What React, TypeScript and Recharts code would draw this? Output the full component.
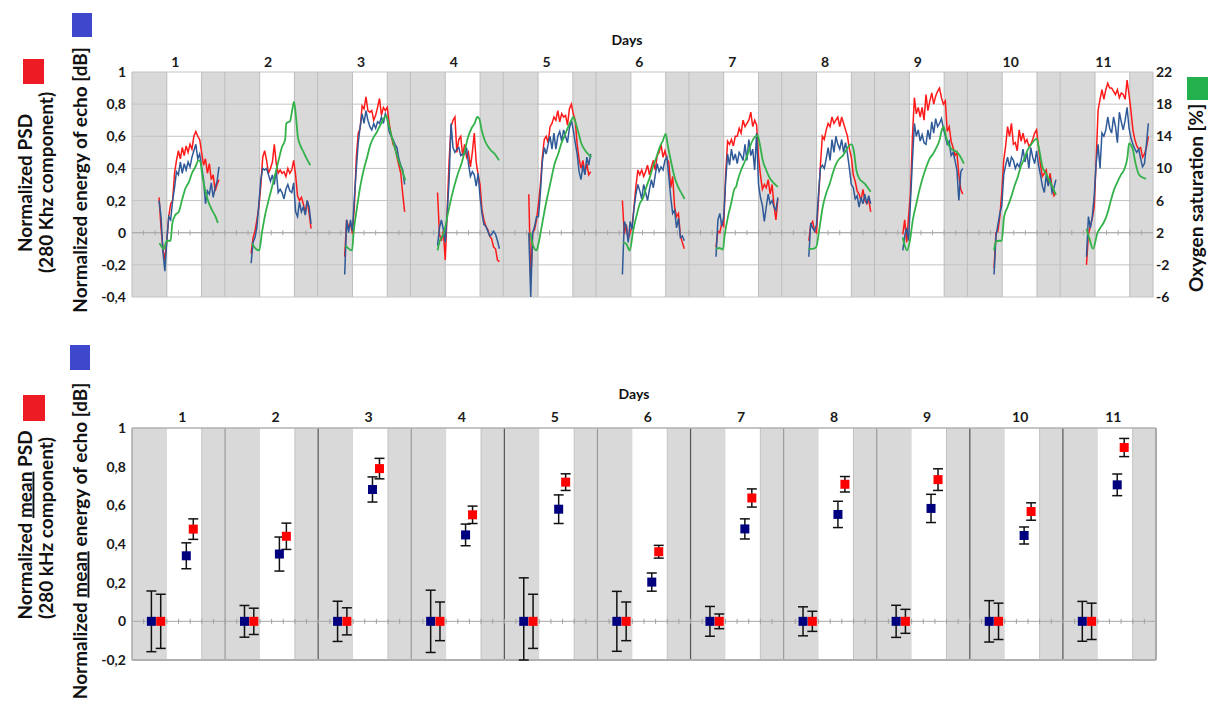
import React from 'react';
import {
  ComposedChart,
  Line,
  Scatter,
  ErrorBar,
  XAxis,
  YAxis,
  ReferenceArea,
  ReferenceLine,
} from 'recharts';

// ---------- categories / ticks ----------
const DAY_LABELS = ['1', '2', '3', '4', '5', '6', '7', '8', '9', '10', '11'];
const HOURS_PER_DAY = 24;
const NIGHT_END_H = 9; // dark band 0-9 h
const LIGHT_END_H = 18; // light band 9-18 h, dark 18-24 h
const TOP_LEFT_TICKS = [-0.4, -0.2, 0, 0.2, 0.4, 0.6, 0.8, 1];
const O2_TICKS = [-6, -2, 2, 6, 10, 14, 18, 22];
const BOTTOM_LEFT_TICKS = [-0.2, 0, 0.2, 0.4, 0.6, 0.8, 1];

// ---------- top panel: time series (hour grid per day) ----------
const SAMPLE_STEP_H = 0.5;
const START_HOURS = [7.0, 6.8, 7.0, 7.0, 6.6, 6.8, 7.0, 7.0, 7.3, 6.9, 6.8];

// Normalized PSD (280 kHz component) - red
const PSD_SERIES: number[][] = [
  [0.22, 0.03, -0.1, -0.17, -0.05, 0.1, 0.18, 0.2, 0.37, 0.45, 0.51, 0.46, 0.53, 0.48, 0.54, 0.5, 0.55, 0.52, 0.6, 0.63, 0.6, 0.58, 0.5, 0.42, 0.46, 0.37, 0.43, 0.33, 0.36, 0.26, 0.3, 0.33],
  [-0.13, -0.03, 0.01, 0.08, 0.16, 0.29, 0.47, 0.51, 0.45, 0.37, 0.4, 0.44, 0.55, 0.43, 0.37, 0.39, 0.37, 0.38, 0.35, 0.4, 0.37, 0.39, 0.45, 0.36, 0.23, 0.2, 0.22, 0.18, 0.12, 0.2, 0.12, 0.025],
  [-0.15, 0.08, 0.035, 0.056, -0.006, 0.16, 0.47, 0.62, 0.65, 0.79, 0.77, 0.845, 0.76, 0.75, 0.76, 0.7, 0.73, 0.78, 0.835, 0.73, 0.78, 0.76, 0.78, 0.68, 0.61, 0.55, 0.53, 0.47, 0.42, 0.37, 0.24, 0.13],
  [0.25, -0.01, -0.05, 0.01, -0.17, 0.14, 0.45, 0.66, 0.7, 0.72, 0.5, 0.58, 0.6, 0.48, 0.55, 0.47, 0.5, 0.41, 0.5, 0.62, 0.44, 0.36, 0.3, 0.14, 0.08, 0.04, 0.02, -0.02, -0.04, -0.09, -0.1, -0.17, -0.18],
  [0.24, -0.3, 0.0, 0.02, 0.08, 0.18, 0.3, 0.47, 0.58, 0.6, 0.56, 0.66, 0.68, 0.72, 0.7, 0.76, 0.69, 0.74, 0.72, 0.73, 0.67, 0.77, 0.8, 0.74, 0.7, 0.55, 0.46, 0.4, 0.45, 0.37, 0.43, 0.36, 0.38],
  [0.2, -0.01, 0.05, -0.04, 0.0, 0.04, 0.16, 0.29, 0.39, 0.36, 0.39, 0.35, 0.38, 0.42, 0.36, 0.41, 0.45, 0.39, 0.48, 0.5, 0.55, 0.47, 0.51, 0.46, 0.44, 0.28, 0.35, 0.16, 0.1, 0.12, -0.02, -0.06, -0.1],
  [-0.09, 0.01, 0.0, 0.06, 0.04, 0.36, 0.57, 0.55, 0.58, 0.54, 0.6, 0.6, 0.65, 0.62, 0.7, 0.66, 0.68, 0.7, 0.75, 0.66, 0.7, 0.67, 0.47, 0.36, 0.27, 0.3, 0.28, 0.33, 0.24, 0.3, 0.17, 0.08, 0.21],
  [-0.05, 0.05, 0.07, 0.01, 0.0, 0.2, 0.42, 0.6, 0.58, 0.64, 0.68, 0.66, 0.72, 0.68, 0.7, 0.72, 0.66, 0.72, 0.68, 0.64, 0.6, 0.52, 0.47, 0.36, 0.32, 0.26, 0.24, 0.2, 0.27, 0.2, 0.18, 0.21, 0.13],
  [-0.01, 0.08, -0.06, 0.1, 0.25, 0.6, 0.84, 0.74, 0.78, 0.72, 0.78, 0.7, 0.86, 0.76, 0.82, 0.87, 0.8, 0.85, 0.88, 0.9, 0.84, 0.8, 0.82, 0.63, 0.66, 0.57, 0.53, 0.48, 0.5, 0.36, 0.27, 0.24],
  [-0.22, 0.0, 0.01, 0.1, 0.25, 0.45, 0.54, 0.66, 0.6, 0.68, 0.55, 0.56, 0.51, 0.64, 0.57, 0.62, 0.56, 0.58, 0.54, 0.55, 0.58, 0.62, 0.64, 0.53, 0.42, 0.35, 0.37, 0.39, 0.3, 0.37, 0.28, 0.23, 0.25],
  [-0.2, -0.01, 0.04, 0.09, 0.16, 0.45, 0.76, 0.83, 0.89, 0.83, 0.89, 0.93, 0.9, 0.9, 0.88, 0.86, 0.89, 0.84, 0.87, 0.86, 0.83, 0.95, 0.86, 0.76, 0.64, 0.58, 0.54, 0.52, 0.53, 0.47, 0.49, 0.53, 0.6],
];

// Normalized energy of echo [dB] - blue
const ECHO_SERIES: number[][] = [
  [0.2, 0.1, -0.12, -0.24, -0.05, 0.1, 0.08, 0.2, 0.28, 0.38, 0.36, 0.44, 0.37, 0.43, 0.39, 0.44, 0.41, 0.47, 0.51, 0.55, 0.46, 0.49, 0.41, 0.33, 0.18, 0.26, 0.24, 0.31, 0.22, 0.28, 0.32, 0.41],
  [-0.19, -0.06, -0.03, 0.035, 0.18, 0.33, 0.4, 0.39, 0.4, 0.36, 0.32, 0.36, 0.3, 0.39, 0.25, 0.27, 0.25, 0.21, 0.27, 0.3, 0.26, 0.25, 0.31, 0.13, 0.1, 0.19, 0.13, 0.16, 0.11, 0.2, 0.16, 0.055],
  [-0.26, 0.08, 0.0, 0.08, 0.01, 0.22, 0.4, 0.56, 0.66, 0.74, 0.68, 0.76, 0.7, 0.66, 0.64, 0.68, 0.65, 0.69, 0.68, 0.72, 0.68, 0.74, 0.71, 0.63, 0.6, 0.58, 0.55, 0.53, 0.46, 0.42, 0.39, 0.3],
  [-0.08, 0.03, 0.08, 0.02, -0.06, 0.12, 0.33, 0.68, 0.53, 0.5, 0.52, 0.53, 0.48, 0.49, 0.49, 0.53, 0.43, 0.35, 0.38, 0.36, 0.29, 0.37, 0.22, 0.12, 0.05, 0.04, 0.01, -0.02, -0.01, 0.01, -0.01, -0.05, -0.1],
  [0.0, -0.4, 0.0, 0.04, 0.1, 0.1, 0.25, 0.44, 0.53, 0.49, 0.55, 0.6, 0.52, 0.62, 0.52, 0.6, 0.63, 0.57, 0.64, 0.6, 0.56, 0.65, 0.7, 0.64, 0.56, 0.49, 0.38, 0.33, 0.42, 0.36, 0.47, 0.42, 0.49],
  [-0.26, 0.07, 0.04, -0.06, 0.07, 0.02, 0.15, 0.24, 0.3, 0.26, 0.21, 0.3, 0.25, 0.2, 0.27, 0.33, 0.28, 0.36, 0.43, 0.38, 0.41, 0.39, 0.45, 0.47, 0.35, 0.22, 0.12, 0.14, 0.03, 0.09, -0.03, -0.02, -0.05],
  [-0.15, 0.08, 0.12, 0.04, 0.1, 0.32, 0.49, 0.42, 0.52, 0.45, 0.49, 0.43, 0.5, 0.48, 0.45, 0.55, 0.45, 0.58, 0.48, 0.52, 0.39, 0.62, 0.3, 0.22, 0.17, 0.07, 0.16, 0.24, 0.18, 0.2, 0.16, 0.14, 0.22],
  [-0.15, 0.06, 0.03, 0.01, 0.05, 0.24, 0.4, 0.42, 0.4, 0.46, 0.53, 0.45, 0.58, 0.5, 0.6, 0.55, 0.52, 0.58, 0.5, 0.56, 0.49, 0.4, 0.3, 0.28, 0.21, 0.23, 0.16, 0.22, 0.18, 0.24, 0.18, 0.23, 0.18],
  [-0.11, -0.02, 0.03, -0.05, 0.2, 0.45, 0.68, 0.6, 0.64, 0.57, 0.61, 0.56, 0.55, 0.64, 0.58, 0.69, 0.62, 0.71, 0.66, 0.68, 0.71, 0.65, 0.6, 0.55, 0.57, 0.48, 0.5, 0.45, 0.39, 0.2, 0.38, 0.4],
  [-0.26, -0.02, 0.05, 0.12, 0.17, 0.36, 0.42, 0.47, 0.41, 0.47, 0.45, 0.4, 0.43, 0.41, 0.45, 0.52, 0.44, 0.5, 0.4, 0.53, 0.47, 0.43, 0.51, 0.42, 0.36, 0.29, 0.25, 0.36, 0.29, 0.34, 0.25, 0.28, 0.33],
  [-0.15, 0.1, 0.03, 0.1, 0.23, 0.43, 0.55, 0.4, 0.62, 0.6, 0.64, 0.72, 0.65, 0.62, 0.72, 0.66, 0.56, 0.75, 0.69, 0.64, 0.7, 0.78, 0.65, 0.59, 0.55, 0.52, 0.5, 0.52, 0.46, 0.41, 0.43, 0.55, 0.68],
];

// Oxygen saturation [%] - green, [hour of day, value]
const O2_SERIES: [number, number][][] = [
  [[7.1, 0.7], [8.2, 0], [9.0, 1.0], [10.0, 1.0], [10.4, 3.1], [11.2, 4.2], [12.1, 4.6], [12.9, 6.0], [13.8, 7.5], [14.7, 8.3], [15.5, 9.4], [16.4, 10.2], [17.2, 11.0], [17.7, 10.8], [18.1, 9.4], [19.0, 7.1], [19.8, 5.8], [20.7, 4.8], [21.6, 4.0], [22.2, 3.2]],
  [[7.0, 0.7], [8.0, 0.0], [8.9, -0.2], [9.6, 2.0], [10.5, 4.4], [11.3, 6.0], [12.2, 7.7], [13.1, 9.4], [13.9, 11.0], [14.8, 12.7], [15.6, 13.6], [15.9, 15.6], [16.9, 15.9], [17.4, 17.2], [17.9, 18.3], [18.4, 16.4], [18.9, 13.9], [19.5, 12.9], [20.4, 12.0], [21.2, 11.2], [22.1, 10.4]],
  [[7.2, 0.4], [8.9, -0.2], [9.3, 2.0], [10.2, 5.2], [11.0, 7.7], [11.9, 9.8], [12.8, 11.4], [13.6, 12.9], [14.5, 13.9], [15.3, 14.5], [16.2, 15.4], [17.1, 16.2], [17.7, 16.6], [18.4, 15.4], [19.2, 13.9], [20.1, 12.3], [20.9, 11.0], [21.8, 9.8], [22.7, 8.5]],
  [[7.0, -0.2], [7.6, 1.0], [8.4, 1.7], [8.9, 2.5], [9.7, 4.4], [10.6, 6.4], [11.5, 8.1], [12.3, 9.4], [13.2, 10.6], [14.1, 12.3], [14.9, 13.9], [15.8, 15.0], [16.6, 15.6], [17.3, 16.4], [17.8, 16.2], [18.4, 14.8], [19.2, 13.5], [20.1, 12.7], [20.9, 12.2], [21.8, 11.8], [22.9, 11.0]],
  [[7.0, 2.0], [7.7, 0.4], [8.6, -0.2], [9.0, 0.4], [9.9, 2.7], [10.7, 4.8], [11.6, 6.9], [12.5, 8.9], [13.3, 10.6], [14.2, 11.8], [15.0, 13.1], [15.9, 14.1], [16.8, 15.2], [17.6, 16.0], [18.1, 16.4], [18.5, 16.0], [19.4, 14.5], [20.2, 13.1], [21.1, 12.3], [21.9, 11.8], [22.8, 11.4]],
  [[7.0, 0.8], [7.8, 0.6], [8.7, -0.2], [9.6, 2.3], [10.4, 4.0], [11.3, 5.6], [12.2, 6.4], [13.0, 7.7], [13.9, 8.9], [14.7, 10.2], [15.6, 11.4], [16.5, 12.7], [17.3, 13.5], [18.0, 14.3], [18.6, 12.7], [19.5, 10.6], [20.3, 8.9], [21.2, 7.7], [22.1, 6.9], [22.9, 6.2]],
  [[7.0, 0.0], [7.9, 0.1], [8.8, -0.1], [9.2, 1.5], [10.1, 4.0], [10.9, 5.6], [11.8, 7.5], [12.2, 7.7], [12.6, 8.5], [13.5, 9.8], [14.4, 10.8], [15.2, 11.8], [16.1, 13.1], [17.0, 13.9], [17.8, 14.1], [18.3, 13.1], [19.1, 11.0], [20.0, 9.8], [20.8, 8.9], [21.7, 8.3], [23.0, 7.7]],
  [[6.9, 0.0], [8.0, 0.0], [8.9, 0.2], [9.8, 2.7], [10.6, 5.2], [11.5, 6.9], [12.4, 8.1], [13.2, 9.4], [14.1, 10.6], [14.9, 11.2], [15.8, 11.6], [16.7, 12.3], [17.5, 12.9], [18.1, 13.0], [18.6, 12.3], [19.3, 9.8], [20.1, 8.7], [21.0, 8.3], [21.8, 7.9], [23.0, 7.1]],
  [[7.3, 1.4], [7.8, 0.4], [8.4, -0.2], [9.1, 0.9], [9.9, 3.6], [10.8, 5.6], [11.6, 7.3], [12.5, 8.9], [13.4, 10.2], [14.2, 11.2], [15.1, 11.8], [15.9, 12.5], [16.8, 13.5], [17.4, 14.8], [17.9, 15.2], [18.5, 13.9], [19.4, 12.7], [20.3, 12.3], [21.1, 12.1], [22.0, 11.6], [23.1, 10.6]],
  [[6.9, -0.2], [7.4, 0.9], [8.2, 1.0], [8.9, 1.0], [9.5, 4.0], [10.4, 5.2], [11.3, 6.4], [12.1, 7.7], [13.0, 8.9], [13.8, 10.2], [14.7, 11.2], [15.6, 12.3], [16.4, 12.9], [17.3, 13.5], [17.9, 13.7], [18.6, 12.3], [19.4, 10.2], [20.3, 9.4], [21.2, 8.5], [22.0, 7.7], [22.9, 6.7]],
  [[6.8, 2.5], [7.6, 1.2], [8.5, 0.0], [9.6, 1.9], [10.5, 2.7], [11.3, 3.3], [12.2, 4.4], [13.1, 6.0], [13.9, 7.3], [14.8, 8.3], [15.7, 9.2], [16.5, 9.8], [17.4, 11.4], [17.8, 13.1], [18.7, 12.5], [19.5, 10.6], [20.4, 9.2], [21.2, 8.9], [22.2, 8.7]],
];

// ---------- bottom panel: means with error bars ----------
const SAMPLE_HOUR_NIGHT_ECHO = 5.0;
const SAMPLE_HOUR_NIGHT_PSD = 7.4;
const SAMPLE_HOUR_DAY_ECHO = 14.0;
const SAMPLE_HOUR_DAY_PSD = 15.8;

const NIGHT_ECHO_MEAN = [0, 0, 0, 0, 0, 0, 0, 0, 0, 0, 0];
const NIGHT_ECHO_ERR: (number | [number, number])[] = [0.157, 0.082, 0.104, 0.161, [0.2, 0.225], 0.155, 0.077, 0.075, 0.083, 0.107, 0.103];
const NIGHT_PSD_MEAN = [0, 0, 0, 0, 0, 0, 0, 0, 0, 0, 0];
const NIGHT_PSD_ERR = [0.14, 0.068, 0.07, 0.1, 0.14, 0.1, 0.038, 0.052, 0.062, 0.094, 0.094];
const DAY_ECHO_MEAN = [0.339, 0.348, 0.682, 0.447, 0.58, 0.203, 0.478, 0.553, 0.584, 0.444, 0.706];
const DAY_ECHO_ERR = [0.067, 0.088, 0.065, 0.056, 0.074, 0.047, 0.052, 0.068, 0.073, 0.044, 0.056];
const DAY_PSD_MEAN = [0.477, 0.44, 0.79, 0.551, 0.72, 0.36, 0.638, 0.709, 0.733, 0.568, 0.899];
const DAY_PSD_ERR = [0.053, 0.068, 0.053, 0.045, 0.043, 0.033, 0.047, 0.04, 0.056, 0.045, 0.047];

// ---------- derived ----------
const N_DAYS = DAY_LABELS.length;
const X_MAX = N_DAYS * HOURS_PER_DAY;
const dayIdx = DAY_LABELS.map((_, i) => i);

const seriesData = (vals: number[], d: number) =>
  vals.map((v, i) => ({ t: d * HOURS_PER_DAY + START_HOURS[d] + i * SAMPLE_STEP_H, v }));
const o2Data = (pts: [number, number][], d: number) =>
  pts.map(([h, v]) => ({ t: d * HOURS_PER_DAY + h, v }));

const bandsDark = dayIdx.flatMap((d) => [
  [d * 24, d * 24 + NIGHT_END_H],
  [d * 24 + LIGHT_END_H, d * 24 + 24],
]);
const boundaries = dayIdx.flatMap((d) => [d * 24, d * 24 + NIGHT_END_H, d * 24 + LIGHT_END_H]).concat([X_MAX]);
const minorTicks: number[] = [];
for (let h = 3; h < X_MAX; h += 3) minorTicks.push(h);

const meanPts = (hour: number, means: number[], errs: any[]) =>
  dayIdx.map((d) => ({ t: d * 24 + hour, v: means[d], err: errs[d] }));

const commaFmt = (v: number) => {
  const r = Math.round(v * 10) / 10;
  return String(r).replace('.', ',');
};

const FONT = 'Lato, "Open Sans", sans-serif';
const tickStyle = { fill: '#1a1a1a', fontSize: 14, fontWeight: 700, fontFamily: FONT };

const RED = '#ff1a1a';
const BLUE = '#2f5a98';
const GREEN = '#33b24a';
const BAND = '#d9d9d9';

const squareShape = (color: string) => (p: any) => (
  <rect x={p.cx - 4.5} y={p.cy - 4.5} width={9} height={9} fill={color} />
);

export default function App() {
  const topLabelTicks = dayIdx.map((d) => d * 24 + 11.2);
  const botLabelTicks = dayIdx.map((d) => d * 24 + 13.0);
  const dayFmt = (t: number) => DAY_LABELS[Math.floor(t / 24)] ?? '';

  return (
    <div style={{ position: 'absolute', left: 0, top: 0, width: 1208, height: 706, background: '#fff', fontFamily: FONT }}>
      {/* ---------------- TOP PANEL ---------------- */}
      <div style={{ position: 'absolute', left: 0, top: 0 }}>
        <ComposedChart width={1208} height={320} margin={{ top: 52, right: 15, bottom: 23, left: 92 }}>
          <XAxis
            type="number"
            dataKey="t"
            orientation="top"
            domain={[0, X_MAX]}
            ticks={topLabelTicks}
            tickFormatter={dayFmt}
            interval={0}
            height={20}
            axisLine={false}
            tickLine={false}
            tickSize={0}
            tickMargin={5}
            tick={tickStyle}
            allowDataOverflow
          />
          <YAxis
            type="number"
            domain={[-0.4, 1]}
            ticks={TOP_LEFT_TICKS}
            tickFormatter={commaFmt}
            width={40}
            axisLine={false}
            tickLine={false}
            tickSize={0}
            tickMargin={6}
            tick={tickStyle}
            interval={0}
            allowDataOverflow
          />
          <YAxis
            yAxisId="r"
            orientation="right"
            type="number"
            domain={[-6, 22]}
            ticks={O2_TICKS}
            width={40}
            axisLine={false}
            tickLine={false}
            tickSize={0}
            tickMargin={3}
            tick={tickStyle}
            interval={0}
            allowDataOverflow
          />
          {bandsDark.map(([a, b], i) => (
            <ReferenceArea key={'tb' + i} x1={a} x2={b} fill={BAND} fillOpacity={1} stroke="none" ifOverflow="hidden" />
          ))}
          {TOP_LEFT_TICKS.map((v) => (
            <ReferenceLine key={'th' + v} y={v} stroke="#c4c4c4" strokeWidth={1} />
          ))}
          {boundaries.map((x, i) => (
            <ReferenceLine key={'tv' + i} x={x} stroke="#bdbdbd" strokeWidth={1} />
          ))}
          <ReferenceLine y={0} stroke="#a8a8a8" strokeWidth={1} />
          {minorTicks.map((x) => (
            <ReferenceLine key={'tm' + x} segment={[{ x, y: -0.016 }, { x, y: 0.016 }]} stroke="#a8a8a8" strokeWidth={1} />
          ))}
          {PSD_SERIES.map((vals, d) => (
            <Line key={'r' + d} data={seriesData(vals, d)} dataKey="v" stroke={RED} strokeWidth={1.5} dot={false} activeDot={false} isAnimationActive={false} type="linear" />
          ))}
          {ECHO_SERIES.map((vals, d) => (
            <Line key={'b' + d} data={seriesData(vals, d)} dataKey="v" stroke={BLUE} strokeWidth={1.5} dot={false} activeDot={false} isAnimationActive={false} type="linear" />
          ))}
          {O2_SERIES.map((pts, d) => (
            <Line key={'g' + d} yAxisId="r" data={o2Data(pts, d)} dataKey="v" stroke={GREEN} strokeWidth={1.8} dot={false} activeDot={false} isAnimationActive={false} type="monotone" />
          ))}
        </ComposedChart>
      </div>

      {/* ---------------- BOTTOM PANEL ---------------- */}
      <div style={{ position: 'absolute', left: 0, top: 340 }}>
        <ComposedChart width={1208} height={366} margin={{ top: 68, right: 52, bottom: 46, left: 92 }}>
          <XAxis
            type="number"
            dataKey="t"
            orientation="top"
            domain={[0, X_MAX]}
            ticks={botLabelTicks}
            tickFormatter={dayFmt}
            interval={0}
            height={20}
            axisLine={false}
            tickLine={false}
            tickSize={0}
            tickMargin={6}
            tick={tickStyle}
            allowDataOverflow
          />
          <YAxis
            type="number"
            domain={[-0.2, 1]}
            ticks={BOTTOM_LEFT_TICKS}
            tickFormatter={commaFmt}
            width={40}
            axisLine={false}
            tickLine={false}
            tickSize={0}
            tickMargin={6}
            tick={tickStyle}
            interval={0}
            allowDataOverflow
          />
          {bandsDark.map(([a, b], i) => (
            <ReferenceArea key={'bb' + i} x1={a} x2={b} fill={BAND} fillOpacity={1} stroke="none" ifOverflow="hidden" />
          ))}
          {dayIdx.map((d) => (
            <ReferenceLine key={'bl' + d} x={d * 24 + LIGHT_END_H} stroke="#c2c2c2" strokeWidth={1} />
          ))}
          {dayIdx.slice(1).map((d) => (
            <ReferenceLine key={'bd' + d} x={d * 24} stroke={[2, 4, 6, 9, 10].includes(d) ? '#555' : '#9a9a9a'} strokeWidth={1.2} />
          ))}
          <ReferenceLine x={0} stroke="#aaa" strokeWidth={1.5} />
          <ReferenceLine x={X_MAX} stroke="#aaa" strokeWidth={2} />
          <ReferenceLine y={1} stroke="#b0b0b0" strokeWidth={1.5} />
          <ReferenceLine y={-0.2} stroke="#b0b0b0" strokeWidth={2} />
          <ReferenceLine y={0} stroke="#a8a8a8" strokeWidth={1} />
          {minorTicks.map((x) => (
            <ReferenceLine key={'bm' + x} segment={[{ x, y: -0.013 }, { x, y: 0.013 }]} stroke="#a0a0a0" strokeWidth={1} />
          ))}
          <Scatter data={meanPts(SAMPLE_HOUR_NIGHT_ECHO, NIGHT_ECHO_MEAN, NIGHT_ECHO_ERR)} dataKey="v" shape={squareShape('#00007f')} isAnimationActive={false}>
            <ErrorBar dataKey="err" direction="y" width={5} stroke="#111" strokeWidth={1.5} />
          </Scatter>
          <Scatter data={meanPts(SAMPLE_HOUR_NIGHT_PSD, NIGHT_PSD_MEAN, NIGHT_PSD_ERR)} dataKey="v" shape={squareShape('#ff0000')} isAnimationActive={false}>
            <ErrorBar dataKey="err" direction="y" width={5} stroke="#111" strokeWidth={1.5} />
          </Scatter>
          <Scatter data={meanPts(SAMPLE_HOUR_DAY_ECHO, DAY_ECHO_MEAN, DAY_ECHO_ERR)} dataKey="v" shape={squareShape('#00007f')} isAnimationActive={false}>
            <ErrorBar dataKey="err" direction="y" width={5} stroke="#111" strokeWidth={1.5} />
          </Scatter>
          <Scatter data={meanPts(SAMPLE_HOUR_DAY_PSD, DAY_PSD_MEAN, DAY_PSD_ERR)} dataKey="v" shape={squareShape('#ff0000')} isAnimationActive={false}>
            <ErrorBar dataKey="err" direction="y" width={5} stroke="#111" strokeWidth={1.5} />
          </Scatter>
        </ComposedChart>
      </div>

      {/* ---------------- TITLES / LEGEND SWATCHES ---------------- */}
      <svg width={1208} height={706} style={{ position: 'absolute', left: 0, top: 0, pointerEvents: 'none' }}>
        <g fontFamily={FONT} fontWeight={700} fill="#111">
          <text x={627} y={45} fontSize={14} textAnchor="middle">Days</text>
          <text x={634} y={399} fontSize={14} textAnchor="middle">Days</text>

          {/* top left */}
          <rect x={23} y={59} width={21} height={25} fill="#ed1c24" />
          <rect x={72} y={13} width={20} height={24} fill="#3f48cc" />
          <text x={31.5} y={183} fontSize={19} textAnchor="middle" transform="rotate(-90 31.5 183)">Normalized PSD</text>
          <text x={52.5} y={182.5} fontSize={19} textAnchor="middle" transform="rotate(-90 52.5 182.5)">(280 Khz component)</text>
          <text x={86.5} y={180} fontSize={19} textAnchor="middle" transform="rotate(-90 86.5 180)">Normalized energy of echo [dB]</text>

          {/* top right */}
          <rect x={1187} y={77} width={21} height={23} fill="#22b14c" />
          <text x={1203} y={198} fontSize={19} textAnchor="middle" transform="rotate(-90 1203 198)">Oxygen saturation [%]</text>

          {/* bottom left */}
          <rect x={23} y={395} width={22} height={26} fill="#ed1c24" />
          <rect x={70} y={345} width={20} height={25} fill="#3f48cc" />
          <text x={31.5} y={525} fontSize={19} textAnchor="middle" transform="rotate(-90 31.5 525)">
            Normalized <tspan style={{ textDecoration: 'underline' }}>mean</tspan> PSD
          </text>
          <text x={52.5} y={528} fontSize={19} textAnchor="middle" transform="rotate(-90 52.5 528)">(280 kHz component)</text>
          <text x={86.5} y={541} fontSize={19} textAnchor="middle" transform="rotate(-90 86.5 541)">
            Normalized <tspan style={{ textDecoration: 'underline' }}>mean</tspan> energy of echo [dB]
          </text>
        </g>
      </svg>
    </div>
  );
}
